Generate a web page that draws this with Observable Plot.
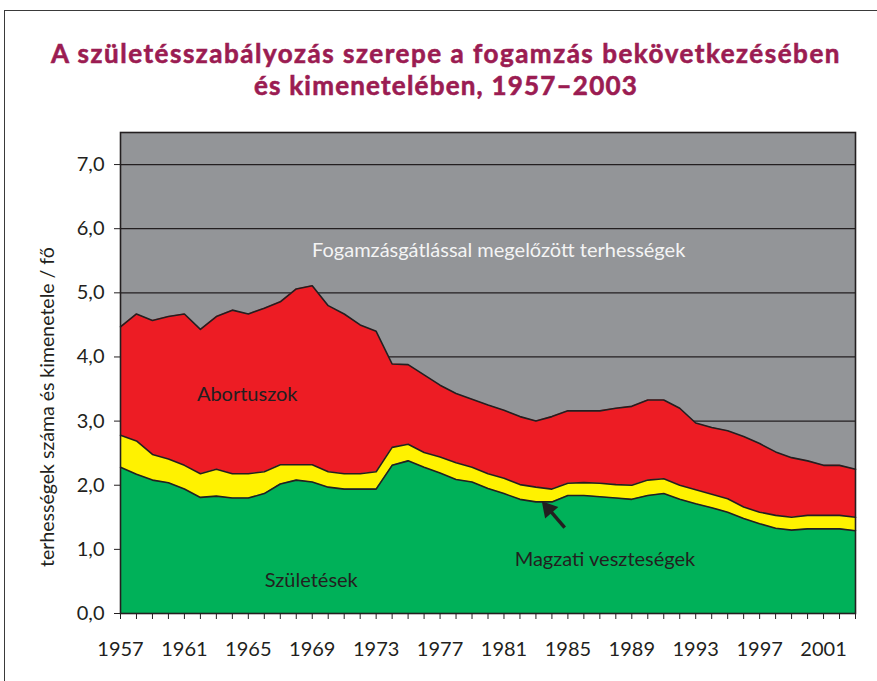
<!DOCTYPE html>
<html><head><meta charset="utf-8">
<script src="https://cdn.jsdelivr.net/npm/d3@7"></script>
<script src="https://cdn.jsdelivr.net/npm/@observablehq/plot@0.6"></script>
<style>
html,body{margin:0;padding:0;background:#fff;overflow:hidden;}
#wrap{position:relative;width:877px;height:681px;overflow:hidden;font-family:Lato,"Noto Sans",sans-serif;}
#border{position:absolute;left:4px;top:10px;width:1000px;height:1000px;border-top:1.5px solid #3a3a3a;border-left:1.5px solid #3a3a3a;}
#chart{position:absolute;left:0;top:0;}
#title{position:absolute;left:0;top:37px;width:892px;text-align:center;color:#9b1c52;font-weight:700;font-size:26px;line-height:32px;white-space:nowrap;-webkit-text-stroke:0.6px #9b1c52;}
</style></head>
<body><div id="wrap"><div id="border"></div><div id="chart"></div>
<div id="title"><span id="t1">A születésszabályozás szerepe a fogamzás bekövetkezésében</span><br><span id="t2">és kimenetelében, 1957–2003</span></div></div>
<script>
const years = [1957,1958,1959,1960,1961,1962,1963,1964,1965,1966,1967,1968,1969,1970,1971,1972,1973,1974,1975,1976,1977,1978,1979,1980,1981,1982,1983,1984,1985,1986,1987,1988,1989,1990,1991,1992,1993,1994,1995,1996,1997,1998,1999,2000,2001,2002,2003];
const xLabelYears = [1957,1961,1965,1969,1973,1977,1981,1985,1989,1993,1997,2001];
const yTicks = [0,1,2,3,4,5,6,7];
const gridValues = [1,2,3,4,5,6,7];

// Születések (births)
const births = [2.28,2.17,2.08,2.04,1.94,1.81,1.83,1.80,1.80,1.87,
                2.02,2.08,2.05,1.97,1.94,1.94,1.94,2.31,2.38,2.28,
                2.19,2.09,2.05,1.95,1.87,1.78,1.74,1.74,1.84,1.84,
                1.82,1.80,1.78,1.84,1.87,1.78,1.71,1.65,1.58,1.48,
                1.40,1.33,1.30,1.32,1.32,1.32,1.29];
// Magzati veszteségek (fetal losses)
const fetalLosses = [0.50,0.52,0.40,0.37,0.37,0.37,0.42,0.38,0.38,0.34,
                     0.30,0.24,0.27,0.24,0.24,0.24,0.27,0.28,0.26,0.23,
                     0.25,0.26,0.23,0.23,0.24,0.23,0.23,0.20,0.19,0.20,
                     0.21,0.21,0.22,0.24,0.23,0.22,0.22,0.21,0.21,0.18,
                     0.18,0.20,0.20,0.21,0.21,0.21,0.21];
// Abortuszok (abortions)
const abortions = [1.69,1.98,2.09,2.22,2.36,2.25,2.38,2.55,2.49,2.55,
                   2.54,2.74,2.79,2.59,2.49,2.32,2.19,1.30,1.24,1.21,
                   1.12,1.08,1.06,1.07,1.06,1.06,1.03,1.13,1.13,1.12,
                   1.13,1.19,1.23,1.25,1.23,1.20,1.04,1.04,1.06,1.10,
                   1.07,0.99,0.93,0.85,0.78,0.78,0.75];

const seriesNames = ["Születések", "Magzati veszteségek", "Abortuszok"];
const seriesColors = ["#00b159", "#fff200", "#ed1c24"];
const backgroundLabel = "Fogamzásgátlással megelőzött terhességek";
const yAxisLabel = "terhességek száma és kimenetele / fő";

// in-chart labels (data units)
const labels = [
  {x: 1980.67, y: 5.66, text: backgroundLabel, color: "#f4f4f4"},
  {x: 1964.93, y: 3.41, text: "Abortuszok", color: "#231f20"},
  {x: 1968.94, y: 0.52, text: "Születések", color: "#231f20"},
  {x: 1987.32, y: 0.84, text: "Magzati veszteségek", color: "#231f20"}
];
const arrowLine = [{x1: 1984.8, y1: 1.34, x2: 1983.9, y2: 1.60}];
const arrowHead = [{x: 1983.78, y: 1.63}];

// build stacked rows
const seriesValues = [births, fetalLosses, abortions];
const rows = [];
years.forEach((yr, i) => {
  let base = 0;
  seriesValues.forEach((arr, k) => {
    rows.push({year: yr, series: seriesNames[k], y1: base, y2: base + arr[i]});
    base += arr[i];
  });
});

const ink = "#231f20";
const chart = Plot.plot({
  width: 877, height: 681,
  marginLeft: 120, marginRight: 22, marginTop: 132, marginBottom: 68,
  x: {type: "linear", domain: [1957, 2003]},
  y: {domain: [0, 7.5]},
  color: {domain: seriesNames, range: seriesColors},
  style: {fontFamily: "Lato, 'Noto Sans', sans-serif", fontSize: "20px", color: ink, background: "transparent", overflow: "visible"},
  marks: [
    Plot.frame({fill: "#939598", stroke: null}),
    Plot.ruleY(gridValues, {stroke: ink, strokeWidth: 1.2}),
    Plot.areaY(rows, {x: "year", y1: "y1", y2: "y2", z: "series", fill: "series"}),
    Plot.lineY(rows, {x: "year", y: "y2", z: "series", stroke: ink, strokeWidth: 1.6}),
    Plot.frame({stroke: ink, strokeWidth: 1.6}),
    Plot.axisY({ticks: yTicks, tickFormat: d => d.toFixed(1).replace(".", ","), tickSize: 6, tickPadding: 10, label: null, fontSize: 20}),
    Plot.axisX({ticks: years, tickFormat: d => xLabelYears.includes(d) ? String(d) : "", tickSize: 6, tickPadding: 22, label: null, fontSize: 20}),
    Plot.text(labels, {x: "x", y: "y", text: "text", fill: "color", fontSize: 20, textAnchor: "middle"}),
    Plot.link(arrowLine, {x1: "x1", y1: "y1", x2: "x2", y2: "y2", stroke: ink, strokeWidth: 3.5}),
    Plot.dot(arrowHead, {x: "x", y: "y", symbol: "triangle", r: 6.5, rotate: -41, fill: ink, stroke: "none"}),
    Plot.text([yAxisLabel], {frameAnchor: "left", dx: -73, dy: 34, rotate: -90, fontSize: 19.5, fill: ink, textAnchor: "middle"})
  ]
});
document.getElementById("chart").appendChild(chart);

// fit title lines to reference widths
function fit(id, target) {
  const el = document.getElementById(id);
  const n = el.textContent.length;
  const w = el.getBoundingClientRect().width;
  el.style.letterSpacing = ((target - w) / n) + "px";
}
fit("t1", 790);
fit("t2", 384);
</script>
</body></html>
